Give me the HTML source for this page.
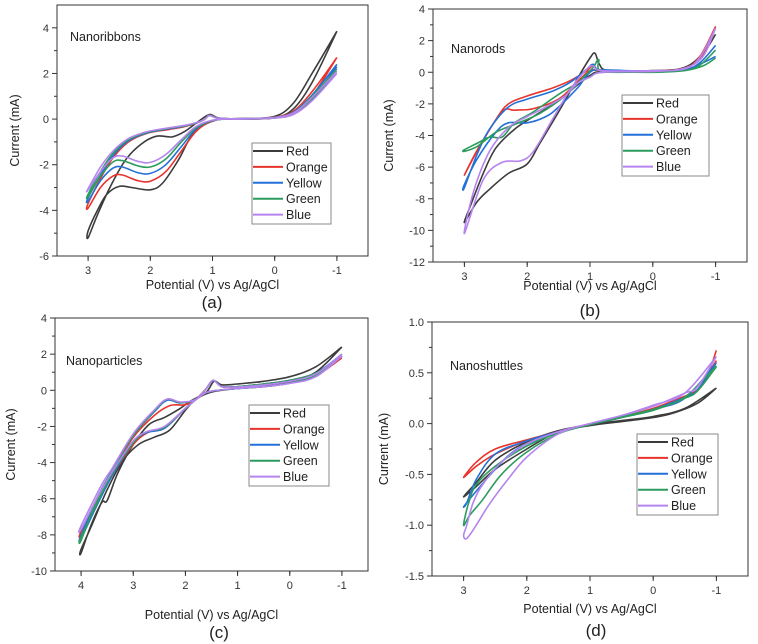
<!DOCTYPE html>
<html><head><meta charset="utf-8">
<style>
html,body{margin:0;padding:0;background:#fff;}
svg{display:block;font-family:"Liberation Sans",Arial,sans-serif;}
</style></head>
<body>
<svg id="fig" width="758" height="644" viewBox="0 0 758 644"></svg>
<script>
// ---------- data ----------
const seriesNames = ["Red","Orange","Yellow","Green","Blue"];
const seriesColors = ["#3c3c3c","#e8342c","#2370d8","#2b9c5e","#b584ee"];

const ribbonsXTicks = [3,2,1,0,-1];
const ribbonsYTicks = [-6,-4,-2,0,2,4];
const ribbonsRed = [[-1,3.85],[-0.6,1.6],[-0.3,0.45],[0,0.06],[0.5,0],[0.95,-0.05],[1.3,-0.6],[1.55,-1.8],[1.8,-2.8],[2.0,-3.1],[2.3,-3.0],[2.5,-2.95],[2.7,-3.3],[2.85,-4.0],[3,-4.9],[3,-5.2],[2.85,-4.2],[2.65,-3.0],[2.4,-1.8],[2.15,-1.1],[1.9,-0.75],[1.65,-0.78],[1.45,-0.55],[1.25,-0.15],[1.05,0.2],[0.9,0.05],[0.5,0.02],[0,0.12],[-0.3,0.7],[-0.6,2.0],[-1,3.85]];
const ribbonsOrange = [[-1,2.7],[-0.6,1.0],[-0.3,0.3],[0,0.05],[0.5,0],[0.95,-0.03],[1.25,-0.5],[1.5,-1.4],[1.75,-2.3],[2.0,-2.72],[2.2,-2.7],[2.45,-2.45],[2.6,-2.5],[2.8,-3.0],[3,-3.9],[3,-3.7],[2.8,-2.6],[2.6,-1.7],[2.35,-1.0],[2.05,-0.62],[1.7,-0.45],[1.4,-0.3],[1.15,-0.05],[1.05,0.18],[0.9,0.03],[0.5,0.02],[0,0.08],[-0.3,0.35],[-0.6,1.2],[-1,2.7]];
const ribbonsYellow = [[-1,2.3],[-0.6,0.9],[-0.3,0.25],[0,0.05],[0.5,0],[0.95,-0.03],[1.25,-0.4],[1.5,-1.2],[1.75,-2.0],[2.0,-2.38],[2.2,-2.35],[2.45,-2.1],[2.6,-2.15],[2.8,-2.7],[3,-3.6],[3,-3.45],[2.8,-2.45],[2.6,-1.6],[2.35,-0.95],[2.05,-0.6],[1.7,-0.42],[1.4,-0.28],[1.15,-0.05],[1.05,0.17],[0.9,0.03],[0.5,0.02],[0,0.07],[-0.3,0.3],[-0.6,1.05],[-1,2.4]];
const ribbonsGreen = [[-1,2.1],[-0.6,0.85],[-0.3,0.22],[0,0.05],[0.5,0],[0.95,-0.03],[1.25,-0.35],[1.5,-1.0],[1.75,-1.75],[2.0,-2.1],[2.2,-2.05],[2.45,-1.82],[2.6,-1.88],[2.8,-2.5],[3,-3.4],[3,-3.3],[2.8,-2.3],[2.6,-1.5],[2.35,-0.9],[2.05,-0.58],[1.7,-0.4],[1.4,-0.27],[1.15,-0.05],[1.05,0.16],[0.9,0.03],[0.5,0.02],[0,0.07],[-0.3,0.28],[-0.6,1.0],[-1,2.2]];
const ribbonsBlue = [[-1,2.0],[-0.6,0.8],[-0.3,0.2],[0,0.05],[0.5,0],[0.95,-0.03],[1.25,-0.3],[1.5,-0.9],[1.75,-1.55],[2.0,-1.9],[2.2,-1.85],[2.45,-1.62],[2.6,-1.7],[2.8,-2.3],[3,-3.1],[3,-3.05],[2.8,-2.1],[2.6,-1.4],[2.35,-0.85],[2.05,-0.55],[1.7,-0.38],[1.4,-0.25],[1.15,-0.05],[1.05,0.15],[0.9,0.03],[0.5,0.02],[0,0.07],[-0.3,0.27],[-0.6,0.95],[-1,2.1]];

const rodsXTicks = [3,2,1,0,-1];
const rodsYTicks = [-12,-10,-8,-6,-4,-2,0,2,4];
const rodsRed = [[-1,2.4],[-0.75,0.9],[-0.5,0.25],[0,0.1],[0.7,0.1],[0.85,0.5],[0.92,1.2],[1.0,0.9],[1.2,-0.4],[1.5,-2.5],[1.8,-4.5],[2.0,-5.8],[2.3,-6.4],[2.6,-7.4],[2.8,-8.2],[3,-9.5],[2.9,-8.4],[2.7,-6.4],[2.5,-4.8],[2.2,-3.6],[1.9,-2.8],[1.5,-1.8],[1.2,-0.8],[1.0,-0.2],[0.8,0.05],[0,0.05],[-0.5,0.3],[-0.8,1.2],[-1,2.4]];
const rodsOrange = [[-1,2.9],[-0.75,1.0],[-0.5,0.25],[0,0.1],[0.8,0.1],[0.95,0.4],[1.05,0.1],[1.3,-0.5],[1.6,-1.0],[2.0,-1.5],[2.3,-2.0],[2.5,-3.0],[2.8,-5.0],[3,-6.5],[2.75,-4.6],[2.4,-2.5],[2.2,-2.4],[1.9,-2.3],[1.5,-1.7],[1.2,-0.6],[1.0,0.1],[0.8,0.1],[0,0.05],[-0.5,0.25],[-0.8,1.1],[-1,2.9]];
const rodsYellow = [[-1,1.7],[-0.75,0.6],[-0.5,0.15],[0,0.1],[0.8,0.1],[0.95,0.5],[1.05,0.2],[1.3,-0.6],[1.6,-1.2],[2.0,-1.7],[2.3,-2.2],[2.6,-3.6],[2.8,-5.2],[3,-7.3],[3,-7.1],[2.8,-5.5],[2.5,-3.8],[2.3,-3.2],[2.0,-3.2],[1.7,-2.8],[1.5,-2.2],[1.2,-1.0],[1.0,0],[0.8,0.15],[0,0.05],[-0.5,0.15],[-0.8,0.6],[-1,1.0]];
const rodsGreen = [[-1,1.4],[-0.75,0.45],[-0.5,0.1],[0,0.05],[0.8,0.05],[0.86,0.8],[0.95,0.3],[1.1,-0.3],[1.4,-1.5],[1.8,-2.6],[2.2,-3.3],[2.5,-3.8],[2.8,-4.7],[3,-5.0],[3,-4.9],[2.8,-4.5],[2.6,-4.1],[2.4,-4.1],[2.2,-3.2],[1.9,-2.5],[1.5,-1.4],[1.2,-0.7],[1.0,-0.3],[0.8,0],[0,0],[-0.5,0.1],[-0.8,0.4],[-1,0.9]];
const rodsBlue = [[-1,2.8],[-0.75,0.95],[-0.5,0.2],[0,0.1],[0.8,0.1],[0.95,0.4],[1.05,0.2],[1.3,-1.0],[1.6,-3.0],[1.9,-5.0],[2.1,-5.6],[2.4,-5.7],[2.7,-6.8],[3,-10.2],[2.85,-7.5],[2.6,-5.0],[2.3,-3.5],[2.0,-2.8],[1.7,-2.2],[1.4,-1.5],[1.2,-0.7],[1.0,-0.3],[0.8,0],[0,0.05],[-0.5,0.25],[-0.8,1.0],[-1,2.8]];

const particlesXTicks = [4,3,2,1,0,-1];
const particlesYTicks = [-10,-8,-6,-4,-2,0,2,4];
const particlesRed = [[-1,2.4],[-0.5,1.3],[0,0.75],[0.5,0.5],[1,0.35],[1.3,0.3],[1.45,0.5],[1.6,-0.1],[1.9,-0.6],[2.1,-1.0],[2.4,-1.5],[2.7,-1.9],[3.0,-3.0],[3.3,-4.6],[3.5,-6.1],[3.6,-6.2],[3.8,-7.4],[4,-9.0],[4,-8.8],[3.8,-7.5],[3.5,-5.5],[3.2,-3.9],[2.9,-3.0],[2.6,-2.6],[2.3,-2.2],[2.0,-1.1],[1.8,-0.5],[1.5,-0.1],[1.0,0.1],[0.5,0.25],[0,0.45],[-0.5,1.0],[-1,2.4]];
const particlesOrange = [[-1,1.9],[-0.5,0.95],[0,0.55],[0.5,0.35],[1,0.2],[1.3,0.2],[1.47,0.55],[1.6,0.1],[1.8,-0.5],[2.0,-0.8],[2.3,-0.85],[2.6,-1.4],[3.0,-2.6],[3.4,-4.5],[3.7,-6.0],[4,-7.8],[4,-8.0],[3.7,-6.3],[3.4,-4.7],[3.0,-3.0],[2.7,-2.3],[2.4,-2.1],[2.0,-1.0],[1.7,-0.3],[1.5,-0.05],[1.0,0.1],[0.5,0.2],[0,0.4],[-0.5,0.8],[-1,1.8]];
const particlesYellow = [[-1,2.0],[-0.5,0.95],[0,0.55],[0.5,0.35],[1,0.2],[1.3,0.2],[1.47,0.55],[1.6,0.1],[1.8,-0.5],[2.1,-0.7],[2.35,-0.55],[2.6,-1.2],[3.0,-2.5],[3.4,-4.4],[3.7,-6.0],[4,-8.0],[4,-8.2],[3.7,-6.4],[3.4,-4.7],[3.0,-2.9],[2.75,-2.35],[2.4,-2.1],[2.0,-1.0],[1.7,-0.3],[1.5,-0.05],[1.0,0.1],[0.5,0.2],[0,0.4],[-0.5,0.8],[-1,1.9]];
const particlesGreen = [[-1,1.9],[-0.5,0.95],[0,0.55],[0.5,0.35],[1,0.2],[1.3,0.2],[1.47,0.55],[1.6,0.1],[1.8,-0.5],[2.1,-0.68],[2.35,-0.5],[2.6,-1.15],[3.0,-2.5],[3.4,-4.4],[3.7,-6.1],[4,-8.3],[4,-8.1],[3.7,-6.3],[3.4,-4.6],[3.0,-2.9],[2.75,-2.3],[2.4,-2.05],[2.0,-1.0],[1.7,-0.3],[1.5,-0.05],[1.0,0.1],[0.5,0.2],[0,0.4],[-0.5,0.8],[-1,1.9]];
const particlesBlue = [[-1,2.0],[-0.5,0.9],[0,0.5],[0.5,0.3],[1,0.18],[1.3,0.2],[1.47,0.55],[1.6,0.1],[1.8,-0.5],[2.1,-0.65],[2.35,-0.48],[2.6,-1.1],[3.0,-2.4],[3.4,-4.3],[3.6,-5.2],[4,-7.5],[4,-7.7],[3.7,-6.0],[3.4,-4.5],[3.0,-2.8],[2.75,-2.3],[2.4,-2.0],[2.0,-1.0],[1.7,-0.3],[1.5,-0.05],[1.0,0.1],[0.5,0.2],[0,0.38],[-0.5,0.75],[-1,1.9]];

const shuttlesXTicks = [3,2,1,0,-1];
const shuttlesYTicks = [-1.5,-1.0,-0.5,0.0,0.5,1.0];
const shuttlesRed = [[-1,0.35],[-0.7,0.2],[-0.3,0.1],[0,0.06],[0.5,0.02],[1,-0.02],[1.5,-0.08],[2,-0.25],[2.5,-0.45],[2.8,-0.62],[3,-0.72],[2.8,-0.58],[2.5,-0.36],[2,-0.18],[1.5,-0.07],[1,-0.01],[0.5,0.03],[0,0.07],[-0.5,0.15],[-1,0.35]];
const shuttlesOrange = [[-1,0.62],[-0.7,0.33],[-0.5,0.27],[0,0.15],[0.5,0.07],[1,0],[1.5,-0.08],[2,-0.17],[2.5,-0.3],[2.8,-0.42],[3,-0.53],[2.8,-0.38],[2.5,-0.25],[2,-0.16],[1.5,-0.08],[1,-0.01],[0.5,0.06],[0,0.14],[-0.5,0.26],[-0.8,0.4],[-1,0.72]];
const shuttlesYellow = [[-1,0.6],[-0.7,0.33],[-0.5,0.26],[0,0.14],[0.5,0.06],[1,-0.01],[1.5,-0.09],[2,-0.2],[2.3,-0.32],[2.6,-0.52],[2.9,-0.74],[3,-0.82],[2.95,-0.78],[2.8,-0.55],[2.5,-0.3],[2,-0.17],[1.5,-0.08],[1,-0.01],[0.5,0.06],[0,0.14],[-0.5,0.25],[-1,0.6]];
const shuttlesGreen = [[-1,0.56],[-0.7,0.32],[-0.5,0.25],[0,0.13],[0.5,0.06],[1,-0.01],[1.5,-0.1],[2,-0.28],[2.4,-0.5],[2.7,-0.75],[2.9,-0.9],[3,-1.0],[2.92,-0.78],[2.8,-0.6],[2.5,-0.42],[2,-0.22],[1.5,-0.09],[1,-0.01],[0.5,0.07],[0,0.14],[-0.5,0.26],[-1,0.57]];
const shuttlesBlue = [[-1,0.66],[-0.7,0.36],[-0.5,0.3],[0,0.17],[0.5,0.08],[1,0],[1.5,-0.1],[2,-0.33],[2.3,-0.55],[2.6,-0.8],[2.8,-1.0],[2.95,-1.13],[3,-1.1],[2.95,-1.0],[2.85,-0.78],[2.7,-0.6],[2.4,-0.38],[2,-0.2],[1.5,-0.08],[1,0],[0.5,0.08],[0,0.18],[-0.5,0.3],[-1,0.66]];

// ---------- rendering ----------
const NS = "http://www.w3.org/2000/svg";
const svg = document.getElementById("fig");
function mk(tag, attrs, parent){
  const e = document.createElementNS(NS, tag);
  for (const k in attrs) e.setAttribute(k, attrs[k]);
  (parent||svg).appendChild(e);
  return e;
}
function smoothPath(pts){
  let d = "M" + pts[0][0].toFixed(1) + "," + pts[0][1].toFixed(1);
  for (let i=0;i<pts.length-1;i++){
    const p0 = pts[i-1]||pts[i], p1=pts[i], p2=pts[i+1], p3=pts[i+2]||p2;
    const c1=[p1[0]+(p2[0]-p0[0])/6, p1[1]+(p2[1]-p0[1])/6];
    const c2=[p2[0]-(p3[0]-p1[0])/6, p2[1]-(p3[1]-p1[1])/6];
    d += " C"+c1[0].toFixed(1)+","+c1[1].toFixed(1)+" "+c2[0].toFixed(1)+","+c2[1].toFixed(1)+" "+p2[0].toFixed(1)+","+p2[1].toFixed(1);
  }
  return d;
}
function panel(cfg){
  const g = mk("g", {});
  
  
  const sx = v => cfg.l + (cfg.x0 - v)/(cfg.x0 - cfg.x1)*(cfg.r - cfg.l);
  const sy = v => cfg.b - (v - cfg.y0)/(cfg.y1 - cfg.y0)*(cfg.b - cfg.t);
  // series
  const sg = mk("g", {}, g);
  
  
  cfg.series.forEach((s,i)=>{
    const p = mk("path", {d: smoothPath(s.map(q=>[sx(q[0]), sy(q[1])])), fill:"none", stroke:seriesColors[i], "stroke-width":1.6, "stroke-linejoin":"round"}, sg);
    
    
  });
  // frame
  const fr = mk("rect", {x:cfg.l, y:cfg.t, width:cfg.r-cfg.l, height:cfg.b-cfg.t, fill:"none", stroke:"#333", "stroke-width":1}, g);
  
  
  // x ticks
  const xa = mk("g", {}, g);
  
  
  const xs = cfg.xt;
  for (let i=0;i<xs.length;i++){
    const X = sx(xs[i]);
    mk("line",{x1:X,y1:cfg.b,x2:X,y2:cfg.b+5,stroke:"#333"},xa);
    const t = mk("text",{x:X,y:cfg.b+18,"text-anchor":"middle","font-size":11,fill:"#333"},xa);
    t.textContent = xs[i];
    
    
  }
  for (let v=cfg.x0-0.5; v>cfg.x1; v-=1){
    const X=sx(v); mk("line",{x1:X,y1:cfg.b,x2:X,y2:cfg.b+3,stroke:"#333"},xa);
  }
  // y ticks
  const ya = mk("g", {}, g);
  
  
  const ys = cfg.yt;
  for (let i=0;i<ys.length;i++){
    const Y = sy(ys[i]);
    mk("line",{x1:cfg.l-5,y1:Y,x2:cfg.l,y2:Y,stroke:"#333"},ya);
    const t = mk("text",{x:cfg.l-8,y:Y+4,"text-anchor":"end","font-size":11,fill:"#333"},ya);
    t.textContent = cfg.yfmt ? ys[i].toFixed(1) : ys[i];
    
    
    if (i<ys.length-1){
      const m = sy((ys[i]+ys[i+1])/2);
      mk("line",{x1:cfg.l-3,y1:m,x2:cfg.l,y2:m,stroke:"#333"},ya);
    }
  }
  // titles
  const xt = mk("text",{x:(cfg.l+cfg.r)/2,y:cfg.xty,"text-anchor":"middle","font-size":12.5,fill:"#222"},g);
  xt.textContent = "Potential (V) vs Ag/AgCl";
  
  
  const yc = (cfg.t+cfg.b)/2;
  const yt = mk("text",{x:cfg.ytx,y:yc,"text-anchor":"middle","font-size":12.5,fill:"#222",transform:"rotate(-90 "+cfg.ytx+" "+yc+")"},g);
  yt.textContent = cfg.ytitle;
  
  
  const pl = mk("text",{x:cfg.lbx,y:cfg.lby,"text-anchor":"middle","font-size":17,fill:"#222"},g);
  pl.textContent = cfg.letter;
  
  
  const nm = mk("text",{x:cfg.nx,y:cfg.ny,"font-size":12.5,fill:"#222"},g);
  nm.textContent = cfg.name;
  
  
  // legend
  const lg = mk("g",{},g);
  
  
  mk("rect",{x:cfg.lx,y:cfg.ly,width:cfg.lw,height:81,fill:"#fff",stroke:"#888"},lg);
  seriesNames.forEach((n,i)=>{
    const Y = cfg.ly + 8 + i*15.9;
    const e = mk("g",{},lg);
    
    
    mk("line",{x1:cfg.lx+1,y1:Y,x2:cfg.lx+31,y2:Y,stroke:seriesColors[i],"stroke-width":2},e);
    const t = mk("text",{x:cfg.lx+34,y:Y+4.5,"font-size":12.5,fill:"#222"},e);
    t.textContent = n;
  });
}

panel({key:"nanoribbons", l:57,r:368,t:5,b:256, x0:3.5,x1:-1.5,y0:-6,y1:5, xt:ribbonsXTicks, yt:ribbonsYTicks.filter(v=>v<=4),
  series:[ribbonsRed,ribbonsOrange,ribbonsYellow,ribbonsGreen,ribbonsBlue],
  xty:289, ytx:19, ytitle:"Current  (mA)", letter:"(a)", lbx:212, lby:308, name:"Nanoribbons", nx:70, ny:41, lx:252,ly:143,lw:79});
panel({key:"nanorods", l:433,r:747,t:9,b:262, x0:3.5,x1:-1.5,y0:-12,y1:4, xt:rodsXTicks, yt:rodsYTicks,
  series:[rodsRed,rodsOrange,rodsYellow,rodsGreen,rodsBlue],
  xty:290, ytx:393, ytitle:"Current (mA)", letter:"(b)", lbx:590, lby:316, name:"Nanorods", nx:451, ny:53, lx:622,ly:95,lw:87});
panel({key:"nanoparticles", l:55,r:368,t:318,b:571, x0:4.5,x1:-1.5,y0:-10,y1:4, xt:particlesXTicks, yt:particlesYTicks,
  series:[particlesRed,particlesOrange,particlesYellow,particlesGreen,particlesBlue],
  xty:619, ytx:15, ytitle:"Current (mA)", letter:"(c)", lbx:219, lby:638, name:"Nanoparticles", nx:66, ny:365, lx:249,ly:405,lw:80});
panel({key:"nanoshuttles", l:432,r:748,t:322,b:576, x0:3.5,x1:-1.5,y0:-1.5,y1:1.0, xt:shuttlesXTicks, yt:shuttlesYTicks, yfmt:true,
  series:[shuttlesRed,shuttlesOrange,shuttlesYellow,shuttlesGreen,shuttlesBlue],
  xty:613, ytx:388, ytitle:"Current (mA)", letter:"(d)", lbx:596, lby:636, name:"Nanoshuttles", nx:450, ny:370, lx:637,ly:434,lw:81});
</script>
</body></html>
